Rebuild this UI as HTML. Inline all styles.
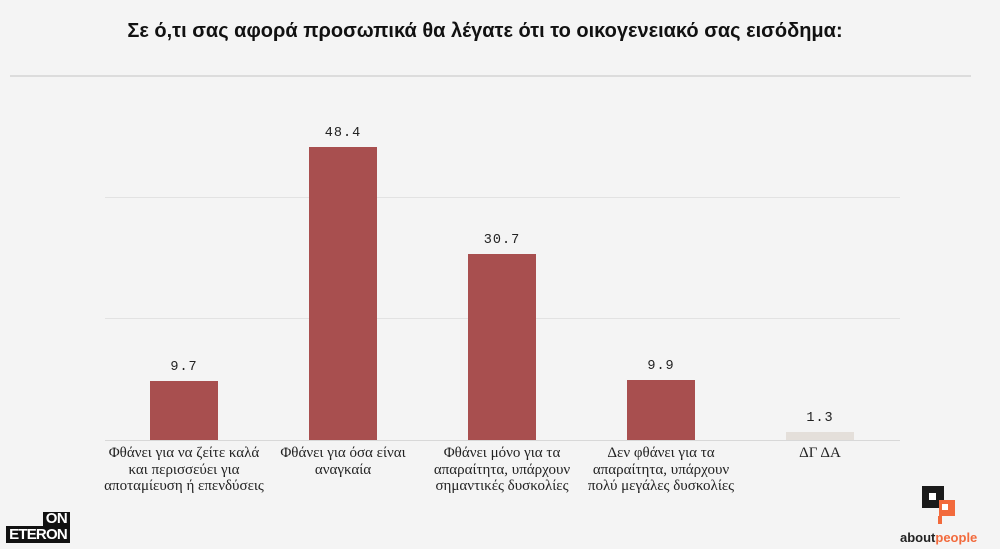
<!DOCTYPE html>
<html><head><meta charset="utf-8"><style>
body{margin:0;width:1000px;height:560px;background:#fff;position:relative;overflow:hidden;font-family:"Liberation Sans",sans-serif}
.bg{position:absolute;left:0;top:0;width:1000px;height:549px;background:#f4f4f4}
.t{position:absolute;top:20px;left:0;width:970px;text-align:center;font-size:20px;font-weight:bold;color:#111}
.hl{position:absolute;left:10px;width:961px;top:75px;height:2px;background:#dcdcdc}
.g{position:absolute;left:105px;width:795px;height:1px;background:#e2e2e2}
.bar{position:absolute;width:68px;background:#a84f4f}
.v{position:absolute;width:100px;text-align:center;font-family:"Liberation Mono",monospace;font-size:13.5px;color:#222;letter-spacing:1px}
.c{position:absolute;top:445px;width:170px;text-align:center;font-family:"Liberation Serif",serif;font-size:15px;line-height:16.5px;color:#222;white-space:nowrap}
</style></head><body>
<div class="bg"></div>
<div class="t">Σε ό,τι σας αφορά προσωπικά θα λέγατε ότι το οικογενειακό σας εισόδημα:</div>
<div class="hl"></div>
<div class="g" style="top:197px"></div>
<div class="g" style="top:318px"></div>
<div class="g" style="top:440px;background:#d8d8d8"></div>
<div class="bar" style="left:150px;top:381px;height:59px"></div>
<div class="bar" style="left:309px;top:147px;height:293px"></div>
<div class="bar" style="left:468px;top:254px;height:186px"></div>
<div class="bar" style="left:627px;top:380px;height:60px"></div>
<div class="bar" style="left:786px;top:432px;height:8px;background:#e4dfda"></div>
<div class="v" style="left:134px;top:360px">9.7</div>
<div class="v" style="left:293px;top:126px">48.4</div>
<div class="v" style="left:452px;top:233px">30.7</div>
<div class="v" style="left:611px;top:359px">9.9</div>
<div class="v" style="left:770px;top:411px">1.3</div>
<div class="c" style="left:99px">Φθάνει για να ζείτε καλά<br>και περισσεύει για<br>αποταμίευση ή επενδύσεις</div>
<div class="c" style="left:258px">Φθάνει για όσα είναι<br>αναγκαία</div>
<div class="c" style="left:417px">Φθάνει μόνο για τα<br>απαραίτητα, υπάρχουν<br>σημαντικές δυσκολίες</div>
<div class="c" style="left:576px">Δεν φθάνει για τα<br>απαραίτητα, υπάρχουν<br>πολύ μεγάλες δυσκολίες</div>
<div class="c" style="left:735px">ΔΓ ΔΑ</div>
<div style="position:absolute;left:43px;top:512px;width:27px;height:14px;background:#111;color:#fff;font-weight:bold;font-size:15px;line-height:14px;text-align:center;letter-spacing:-0.5px">ON</div>
<div style="position:absolute;left:6px;top:526px;width:64px;height:17px;background:#111;color:#fff;font-weight:bold;font-size:15px;line-height:17px;text-align:center;letter-spacing:-0.8px">ETERON</div>
<div style="position:absolute;left:922px;top:486px;width:22px;height:22px;background:#1a1a1a"></div>
<div style="position:absolute;left:929px;top:493px;width:7px;height:7px;background:#fff"></div>
<div style="position:absolute;left:939px;top:500px;width:16px;height:16px;background:#f26a3c"></div>
<div style="position:absolute;left:938px;top:516px;width:4px;height:8px;background:#f26a3c"></div>
<div style="position:absolute;left:942px;top:504px;width:6px;height:6px;background:#fff"></div>
<div style="position:absolute;left:900px;top:530px;font-size:13px;font-weight:bold;color:#222">about<span style="color:#f26a3c">people</span></div>
</body></html>
